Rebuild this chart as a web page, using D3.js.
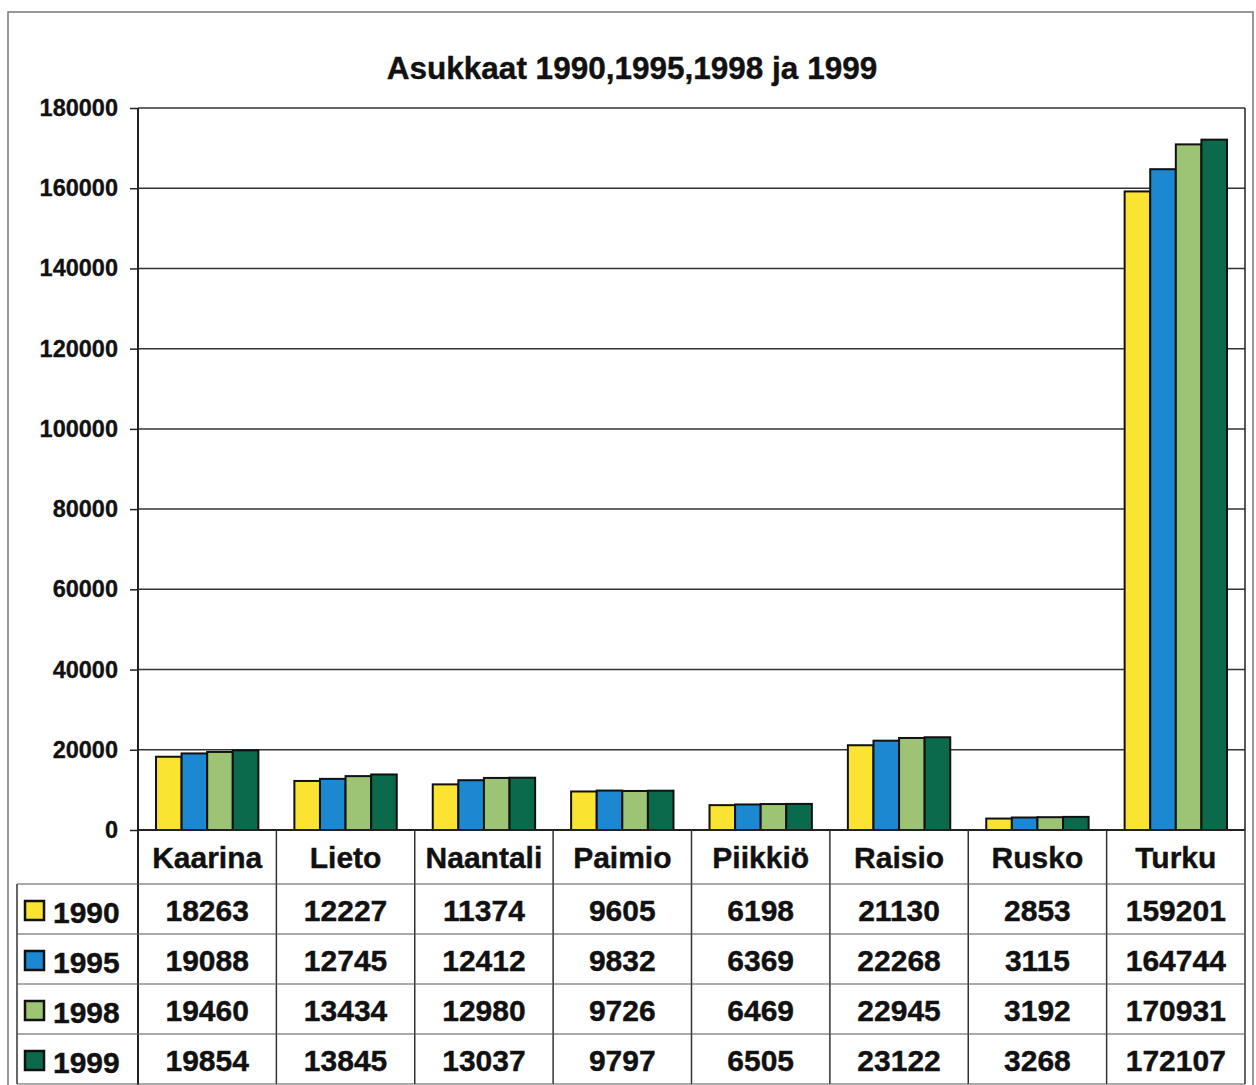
<!DOCTYPE html>
<html><head><meta charset="utf-8">
<script src="https://cdn.jsdelivr.net/npm/d3@7"></script>
<style>body{margin:0;background:#fff;} svg{display:block;font-family:"Liberation Sans",Arial,sans-serif;}</style>
</head><body>
<svg id="c" width="1256" height="1085"></svg>
<script>
const title = "Asukkaat 1990,1995,1998 ja 1999";
const categories = ["Kaarina","Lieto","Naantali","Paimio","Piikkiö","Raisio","Rusko","Turku"];
const years = ["1990","1995","1998","1999"];
const v1990 = [18263,12227,11374,9605,6198,21130,2853,159201];
const v1995 = [19088,12745,12412,9832,6369,22268,3115,164744];
const v1998 = [19460,13434,12980,9726,6469,22945,3192,170931];
const v1999 = [19854,13845,13037,9797,6505,23122,3268,172107];
const yTicks = [0,20000,40000,60000,80000,100000,120000,140000,160000,180000];
const colors = ["#fbe332","#1c88d2","#9cc474","#0b6a4c"];
const series = [v1990,v1995,v1998,v1999];

const svg = d3.select("#c");
const L = 138, R = 1245, T = 108, B = 830;
const tableTop = 884, rowH = 50;

// outer frame
svg.append("rect").attr("x",8).attr("y",12).attr("width",1245).attr("height",1090)
  .attr("fill","none").attr("stroke","#777").attr("stroke-width",1.5);

svg.append("text").attr("x",632).attr("y",79).attr("text-anchor","middle")
  .attr("font-size",31.5).attr("font-weight","bold").attr("fill","#111")
  .attr("stroke","#111").attr("stroke-width",0.4).text(title);

const x = d3.scaleBand().domain(categories).range([L,R]).padding(0);
const xi = d3.scaleBand().domain(years).range([18, x.bandwidth()-18]).padding(0);
const y = d3.scaleLinear().domain([0,180000]).range([B,T]);

// gridlines
svg.append("g").selectAll("line").data(yTicks).join("line")
  .attr("x1",L).attr("x2",R).attr("y1",d=>y(d)).attr("y2",d=>y(d))
  .attr("stroke","#333").attr("stroke-width",1.5);

// y axis
const yAxis = d3.axisLeft(y).tickValues(yTicks).tickSize(8).tickPadding(12).tickFormat(d=>String(d));
const ga = svg.append("g").attr("transform",`translate(${L},0)`).call(yAxis);
ga.select(".domain").remove();
ga.selectAll(".tick line").attr("stroke","#222").attr("stroke-width",1.5);
ga.selectAll(".tick text").attr("font-size",23.5).attr("font-weight","bold").attr("fill","#111")
  .attr("stroke","#111").attr("stroke-width",0.3)
  .attr("font-family","Liberation Sans, Arial, sans-serif");

svg.append("line").attr("x1",R).attr("x2",R).attr("y1",T).attr("y2",B).attr("stroke","#222").attr("stroke-width",1.5);

// bars
const data = [];
categories.forEach((c,i)=>years.forEach((yr,j)=>data.push({c,yr,j,v:series[j][i]})));
svg.append("g").selectAll("rect").data(data).join("rect")
  .attr("x",d=>x(d.c)+xi(d.yr)).attr("width",xi.bandwidth())
  .attr("y",d=>y(d.v)).attr("height",d=>B-y(d.v))
  .attr("fill",d=>colors[d.j]).attr("stroke","#111").attr("stroke-width",2);

// axis lines
svg.append("line").attr("x1",L).attr("x2",L).attr("y1",T).attr("y2",1085).attr("stroke","#222").attr("stroke-width",2);
svg.append("line").attr("x1",L).attr("x2",R).attr("y1",B).attr("y2",B).attr("stroke","#222").attr("stroke-width",2);

// table
const tg = svg.append("g");
const tb = tableTop + rowH*4;
categories.forEach((c,i)=>{
  if(i>0) tg.append("line").attr("x1",x(c)).attr("x2",x(c)).attr("y1",B).attr("y2",tb).attr("stroke","#333").attr("stroke-width",1.5);
});
tg.append("line").attr("x1",R).attr("x2",R).attr("y1",B).attr("y2",tb).attr("stroke","#333").attr("stroke-width",1.5);
tg.append("line").attr("x1",17).attr("x2",17).attr("y1",tableTop).attr("y2",tb).attr("stroke","#333").attr("stroke-width",1.5);
for(let r=0;r<=4;r++){
  tg.append("line").attr("x1",17).attr("x2",R).attr("y1",tableTop+r*rowH).attr("y2",tableTop+r*rowH)
    .attr("stroke","#555").attr("stroke-width",1.2);
}
tg.selectAll("text.cat").data(categories).join("text").attr("class","cat")
  .attr("x",d=>x(d)+x.bandwidth()/2).attr("y",(B+tableTop)/2+11).attr("text-anchor","middle")
  .attr("font-size",30).attr("font-weight","bold").attr("fill","#111")
  .attr("stroke","#111").attr("stroke-width",0.4).text(d=>d);
years.forEach((yr,j)=>{
  const cy = tableTop + j*rowH + rowH/2;
  tg.append("rect").attr("x",25).attr("y",cy-8).attr("width",19).attr("height",19)
    .attr("fill",colors[j]).attr("stroke","#111").attr("stroke-width",2.5);
  tg.append("text").attr("x",53).attr("y",cy+14).attr("font-size",30).attr("font-weight","bold")
    .attr("fill","#111").attr("stroke","#111").attr("stroke-width",0.4).text(yr);
  tg.selectAll(null).data(series[j]).join("text")
    .attr("x",(d,i)=>x(categories[i])+x.bandwidth()/2).attr("y",cy+12).attr("text-anchor","middle")
    .attr("font-size",30).attr("font-weight","bold").attr("fill","#111")
    .attr("stroke","#111").attr("stroke-width",0.4).text(d=>d);
});
</script>
</body></html>
